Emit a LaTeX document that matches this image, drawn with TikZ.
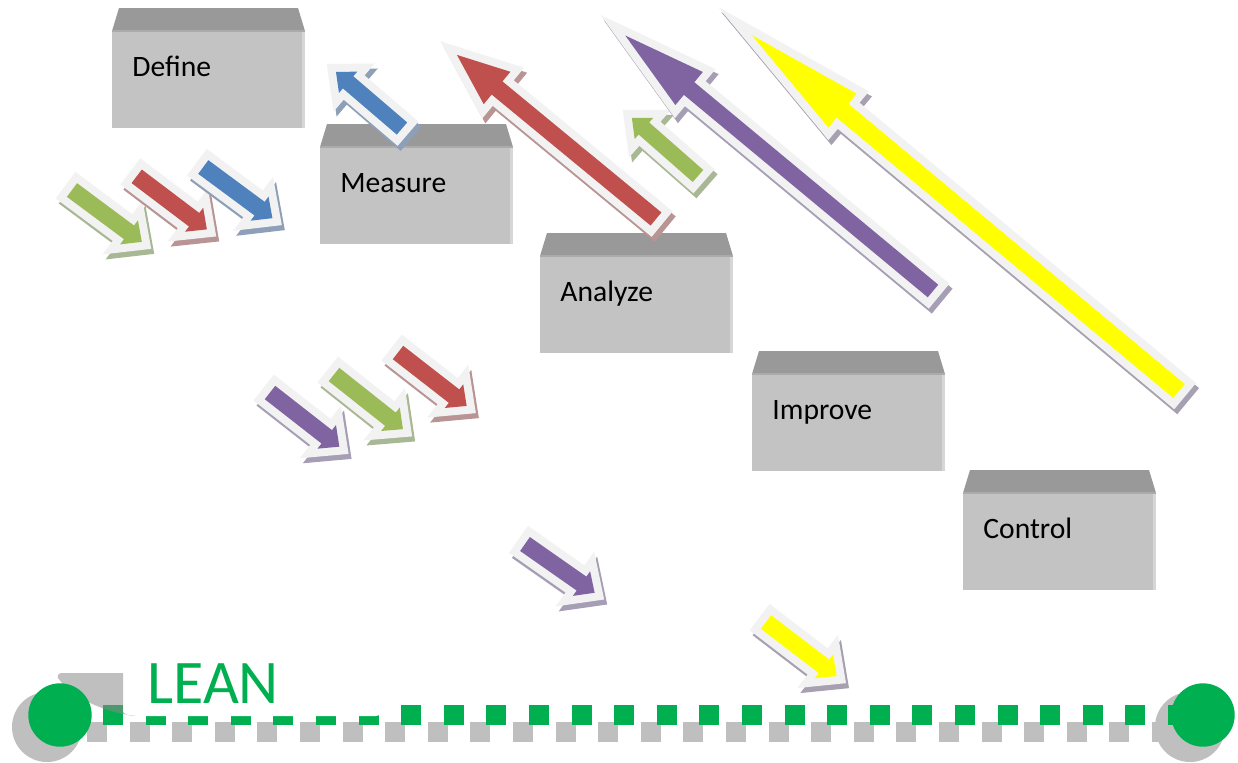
\documentclass[tikz,border=0pt]{standalone}
\usepackage{fontspec}
\setmainfont{Carlito}
\definecolor{topgray}{HTML}{999999}
\definecolor{facegray}{HTML}{C3C3C3}
\definecolor{rightrim}{HTML}{D6D6D6}
\definecolor{boxline}{HTML}{ABABAB}
\definecolor{rim}{HTML}{F2F2F2}
\definecolor{agreen}{HTML}{9BBB59}
\definecolor{ared}{HTML}{C0504D}
\definecolor{ablue}{HTML}{4F81BD}
\definecolor{apurple}{HTML}{8064A2}
\definecolor{ayellow}{HTML}{FFFF00}
\definecolor{sgreen}{HTML}{A8B894}
\definecolor{sred}{HTML}{B89494}
\definecolor{sblue}{HTML}{8EA0B8}
\definecolor{spurple}{HTML}{A59EB5}
\definecolor{syellow}{HTML}{A7A0B0}
\definecolor{leangreen}{HTML}{00B050}
\definecolor{shadegray}{HTML}{BFBFBF}
\definecolor{curlgray}{HTML}{898989}
\newcommand{\dmaicarrow}[9]{%
  \begin{scope}[shift={(#1+3,#2+5)},rotate=#3]
    \path[fill=#9,draw=#9,line width=8pt]
      (0,#5) -- ({#4-#7},#5) -- ({#4-#7},#6) -- (#4,0) -- ({#4-#7},-#6) -- ({#4-#7},-#5) -- (0,-#5) -- cycle;
  \end{scope}
  \begin{scope}[shift={(#1,#2)},rotate=#3]
    \path[fill=#8,preaction={draw=rim,line width=8pt}]
      (0,#5) -- ({#4-#7},#5) -- ({#4-#7},#6) -- (#4,0) -- ({#4-#7},-#6) -- ({#4-#7},-#5) -- (0,-#5) -- cycle;
  \end{scope}}
\newcommand{\dmaicbox}[4]{%
  \fill[topgray] ({#2+7},{#3-23}) -- ({#2+186},{#3-23}) -- ({#2+193},#3) -- (#2,#3) -- cycle;
  \fill[facegray] (#2,#3) rectangle ({#2+193},{#3+97});
  \fill[rightrim] ({#2+190},#3) rectangle ({#2+193},{#3+97});
  \draw[boxline,line width=1pt] (#2,#3) -- ({#2+193},#3);
  \node[boxtext] (#1) at ({#2+20},{#3+45.5}) {#4};}
\tikzset{
  boxtext/.style={anchor=base west,inner sep=0pt,font=\fontsize{14.8pt}{16pt}\selectfont,text=black},
  greendash/.style={leangreen,line width=10pt,dash pattern=on 10pt off 11.3pt},
  graydash/.style={shadegray,line width=10pt,dash pattern=on 10pt off 11.3pt},
}
\begin{document}
\begin{tikzpicture}[x=0.5pt,y=-0.5pt]
\useasboundingbox (0,0) rectangle (1238,762);
\fill[white] (0,0) rectangle (1238,762);
% boxes
\dmaicbox{define}{112}{31}{Define}
\dmaicbox{measure}{320}{147}{Measure}
\dmaicbox{analyze}{540}{256}{Analyze}
\dmaicbox{improve}{752}{374}{Improve}
\dmaicbox{control}{963}{493}{Control}
% first group of small arrows
\dmaicarrow{72}{190}{-36.6}{87}{8.5}{15}{16}{agreen}{sgreen}
\dmaicarrow{136.7}{176.3}{-37.1}{88}{8.5}{15}{16}{ared}{sred}
\dmaicarrow{203.3}{167}{-36.5}{86}{8.5}{15}{16}{ablue}{sblue}
% up arrows
\dmaicarrow{402}{128.5}{139.4}{87}{8}{14}{16}{ablue}{sblue}
\dmaicarrow{656}{219}{140.5}{258}{8.5}{21}{52}{ared}{sred}
\dmaicarrow{698}{176}{138.7}{88}{8}{14}{16}{agreen}{sgreen}
\dmaicarrow{933}{291}{140.3}{400}{8.2}{21.5}{83}{apurple}{spurple}
\dmaicarrow{1179}{391}{140.2}{556}{9}{22}{118}{ayellow}{syellow}
% second group
\dmaicarrow{270}{392.5}{-38}{88}{8.5}{15}{16}{apurple}{spurple}
\dmaicarrow{334}{374.5}{-38.4}{88}{8.5}{15}{16}{agreen}{sgreen}
\dmaicarrow{398}{352.5}{-37.9}{87}{8.5}{15}{16}{ared}{sred}
\dmaicarrow{525}{544}{-35}{85}{8.5}{15}{16}{apurple}{spurple}
\dmaicarrow{766}{622}{-37.4}{89}{8.5}{15}{16}{ayellow}{syellow}
% LEAN line
\coordinate (gs0) at (87,732);
\coordinate (ge0) at (1180,732);
\coordinate (gs) at (103,715);
\coordinate (ge) at (1190,715);
\draw[graydash] (gs0) -- (ge0);
\fill[shadegray] (47,727) circle[radius=17.5pt];
\fill[shadegray] (1190,727) circle[radius=17.5pt];
\draw[greendash] (gs) -- (ge);
\fill[white] (123,630) -- (380,630) -- (380,712) .. controls (380,715) and (379,716) .. (376,716) -- (123,716) -- cycle;
\fill[curlgray,opacity=0.54] (62,673) -- (123,673) -- (123,712) .. controls (126,715) and (130,716) .. (136,716) .. controls (100,712) and (70,695) .. (58,678) .. controls (57,675) and (59,673) .. (62,673) -- cycle;
\node[circle,fill=leangreen,minimum size=31.7pt,inner sep=0pt] (leftend) at (60,715) {};
\node[circle,fill=leangreen,minimum size=31.7pt,inner sep=0pt] (rightend) at (1203,715) {};
\node[anchor=base west,inner sep=0pt,text=leangreen,font=\fontsize{31pt}{33pt}\selectfont] (lean) at (147,703) {LEAN};
\end{tikzpicture}
\end{document}
